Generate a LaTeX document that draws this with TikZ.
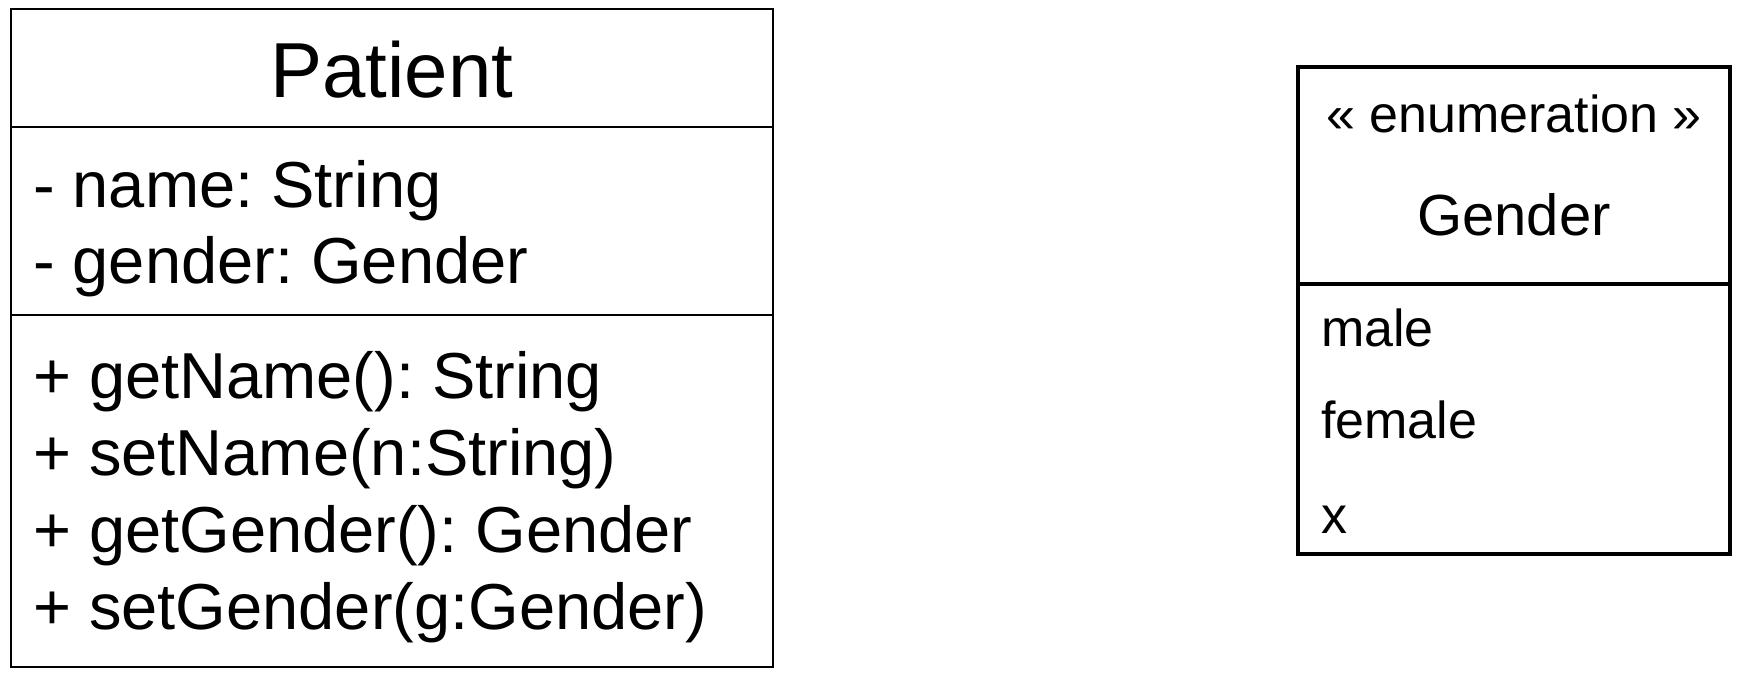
\documentclass[tikz,border=0pt]{standalone}
\usepackage{fontspec}
\setmainfont{Liberation Sans}
\usetikzlibrary{positioning}
\frenchspacing
\tikzset{%
  part/.style     = {draw, rectangle, inner sep = 0pt, line width = 2pt,
    minimum width = 762pt},
  enumpart/.style = {draw, rectangle, inner sep = 0pt, line width = 3.5pt,
    minimum width = 432pt},
  entry/.style    = {inner sep = 0pt, anchor = base west}, % Member line
  heading/.style  = {inner sep = 0pt, anchor = base} % Class name
}
\newcommand{\titlesize}{\fontsize{78}{90}\selectfont}
\newcommand{\membersize}{\fontsize{65}{76}\selectfont}
\newcommand{\enumsize}{\fontsize{52}{60}\selectfont}

\begin{document}
\begin{tikzpicture}[x = 1pt, y = 1pt]
\useasboundingbox (0,0) rectangle (1744,676);
%class compartments
\draw
	(392,608) node [part, minimum height = 118pt] (ptitle) {}
	(392,455) node [part, minimum height = 188pt] (pattr) {}
	(392,185) node [part, minimum height = 352pt] (pops) {};
%enumeration compartments
\draw
	(1514,500.5) node [enumpart, minimum height = 217pt] (etitle) {}
	(1514,257) node [enumpart, minimum height = 270pt] (evals) {};
%class texts
\node [heading] (pname) at (392,578) {\titlesize Patient};
\node [entry] (aname) at (33,468) {\membersize - name: String};
\node [entry] (agender) at (33,392) {\membersize - gender: Gender};
\node [entry] (ogetn) at (33,277) {\membersize + getName(): String};
\node [entry] (osetn) at (33,200) {\membersize + setName(n:String)};
\node [entry] (ogetg) at (33,123) {\membersize + getGender(): Gender};
\node [entry] (osetg) at (33,46) {\membersize + setGender(g:Gender)};
%enumeration texts
\node [heading] (stereo) at (1514,543) {\enumsize « enumeration »};
\node [heading] (ename) at (1514,440) {\fontsize{58}{66}\selectfont Gender};
\node [entry] (vmale) at (1321,329) {\enumsize male};
\node [entry] (vfemale) at (1321,237) {\enumsize female};
\node [entry] (vx) at (1321,142) {\enumsize x};
\end{tikzpicture}
\end{document}
